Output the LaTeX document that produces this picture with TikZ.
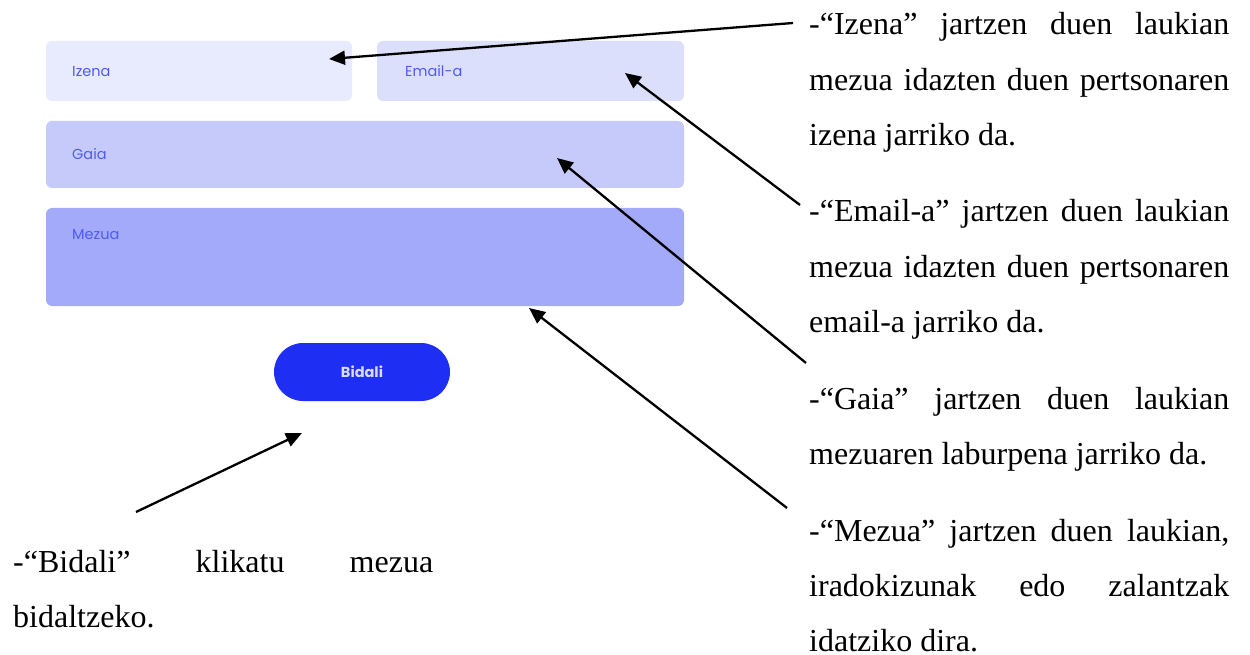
\documentclass[tikz,border=0pt]{standalone}
\usepackage{fontspec}
\setmainfont{Liberation Serif}
\newfontfamily\uifont{Poppins}
\usetikzlibrary{arrows.meta}
\definecolor{izenafill}{HTML}{E8EAFD}
\definecolor{emailfill}{HTML}{DCDFFC}
\definecolor{gaiafill}{HTML}{C6CAFB}
\definecolor{mezuafill}{HTML}{A3AAF9}
\definecolor{btnfill}{HTML}{1E2EF2}
\definecolor{btntext}{HTML}{D9DCFF}
\definecolor{labelblue}{HTML}{4F5BF2}
\begin{document}
\begin{tikzpicture}[x=1pt,y=-1pt,
  field/.style={rounded corners=6pt, inner sep=0pt, draw=none},
  flabel/.style={anchor=base west, inner sep=0pt, text=labelblue,
    font=\uifont\fontsize{14.5}{17}\selectfont},
  para/.style={anchor=base west, inner sep=0pt,
    font=\fontsize{32}{55.3}\selectfont},
  pointer/.style={-{Triangle[length=16pt,width=14pt]}, line width=2.3pt, black}
]
\useasboundingbox (0,0) rectangle (1250,655);
\fill[white] (0,0) rectangle (1250,655);

% form fields
\node[field, fill=izenafill, minimum width=306pt, minimum height=60pt] (izena) at (199,71) {};
\node[field, fill=emailfill, minimum width=307pt, minimum height=60pt] (email) at (530.5,71) {};
\node[field, fill=gaiafill, minimum width=638pt, minimum height=67pt] (gaia) at (365,154.5) {};
\node[field, fill=mezuafill, minimum width=638pt, minimum height=98pt] (mezua) at (365,257) {};
\node[rounded corners=29pt, fill=btnfill, minimum width=176pt, minimum height=58pt, inner sep=0pt,
  text=btntext, font=\uifont\bfseries\fontsize{14.5}{17}\selectfont] (bidali) at (362,372) {Bidali};

% field labels
\node[flabel] (lizena) at (72,77) {Izena};
\node[flabel] (lemail) at (405,77) {Email-a};
\node[flabel] (lgaia) at (72,160) {Gaia};
\node[flabel] (lmezua) at (72,240) {Mezua};

% explanatory text
\node[para] (pizena) at (809,35) {\parbox[t]{420pt}{%
  \makebox[420pt][s]{-“Izena” jartzen duen laukian}\\
  \makebox[420pt][s]{mezua idazten duen pertsonaren}\\
  izena jarriko da.}};
\node[para] (pemail) at (809,222) {\parbox[t]{420pt}{%
  \makebox[420pt][s]{-“Email-a” jartzen duen laukian}\\
  \makebox[420pt][s]{mezua idazten duen pertsonaren}\\
  email-a jarriko da.}};
\node[para] (pgaia) at (809,409) {\parbox[t]{420pt}{%
  \makebox[420pt][s]{-“Gaia” jartzen duen laukian}\\
  mezuaren laburpena jarriko da.}};
\node[para] (pmezua) at (809,541) {\parbox[t]{420pt}{%
  \makebox[420pt][s]{-“Mezua” jartzen duen laukian,}\\
  \makebox[420pt][s]{iradokizunak edo zalantzak}\\
  idatziko dira.}};
\node[para] (pbidali) at (13,572) {\parbox[t]{420pt}{%
  \makebox[420pt][s]{-“Bidali” klikatu mezua}\\
  bidaltzeko.}};

% arrow endpoints
\coordinate (t1) at (793,23);  \coordinate (h1) at (329,59);
\coordinate (t2) at (800,205); \coordinate (h2) at (625,73);
\coordinate (t3) at (806,363); \coordinate (h3) at (557,158);
\coordinate (t4) at (787,508); \coordinate (h4) at (529,308);
\coordinate (t5) at (136,512); \coordinate (h5) at (302,433);

\draw[pointer] (t1) -- (h1);
\draw[pointer] (t2) -- (h2);
\draw[pointer] (t3) -- (h3);
\draw[pointer] (t4) -- (h4);
\draw[pointer] (t5) -- (h5);
\end{tikzpicture}
\end{document}
